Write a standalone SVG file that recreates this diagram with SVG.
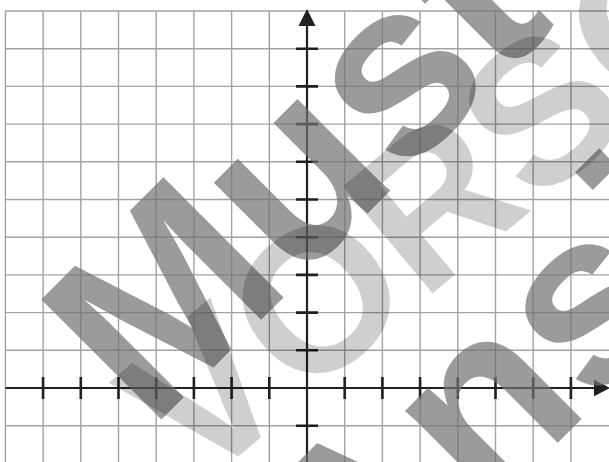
<svg xmlns="http://www.w3.org/2000/svg" width="609" height="462" viewBox="0 0 609 462">
<style>
.grid{stroke:#a2a2a2;stroke-width:1.4;fill:none}
.axis{stroke:#231f20;stroke-width:2.2;fill:none}
.tick{stroke:#231f20;stroke-width:2.6;fill:none}
.head{fill:#231f20}
.wm{font-family:"Liberation Sans",Arial,Helvetica,sans-serif;font-weight:bold}
.dark{fill:#727272;fill-opacity:0.71}
.light{fill:#000000;fill-opacity:0.19}
</style>
<rect width="609" height="462" fill="#ffffff"/>
<g id="grid">
<path class="grid" d="M5.4 11V462M43.1 11V462M80.8 11V462M118.5 11V462M156.2 11V462M193.9 11V462M231.6 11V462M269.3 11V462M307 11V462M344.7 11V462M382.4 11V462M420.1 11V462M457.8 11V462M495.5 11V462M533.2 11V462M570.9 11V462"/>
<path class="grid" d="M5.4 11H609M5.4 48.7H609M5.4 86.4H609M5.4 124.1H609M5.4 161.8H609M5.4 199.5H609M5.4 237.2H609M5.4 274.9H609M5.4 312.6H609M5.4 350.3H609M5.4 388H609M5.4 425.7H609"/>
</g>
<g id="axes">
<path class="axis" d="M307 462V24M5.4 388H596"/>
<polygon class="head" points="307,9 298.5,26 315.5,26"/>
<polygon class="head" points="610,388 594,379.8 594,396.2"/>
<path class="tick" d="M296 48.7H318M296 86.4H318M296 124.1H318M296 161.8H318M296 199.5H318M296 237.2H318M296 274.9H318M296 312.6H318M296 350.3H318M296 425.7H318"/>
<path class="tick" d="M43.1 377V399M80.8 377V399M118.5 377V399M156.2 377V399M193.9 377V399M231.6 377V399M269.3 377V399M344.7 377V399M382.4 377V399M420.1 377V399M457.8 377V399M495.5 377V399M533.2 377V399M570.9 377V399"/>
</g>
<g id="watermark-dark" class="wm dark" font-size="247" transform="translate(149.8,431.2) rotate(-45)">
<text x="0" y="0">Muster</text>
<text x="0" y="296.7">Ansicht</text>
</g>
<g id="watermark-light" class="wm light" font-size="203" transform="translate(197.5,490.6) rotate(-40)">
<text x="0" y="0">VORSCHAU</text>
</g>
</svg>
